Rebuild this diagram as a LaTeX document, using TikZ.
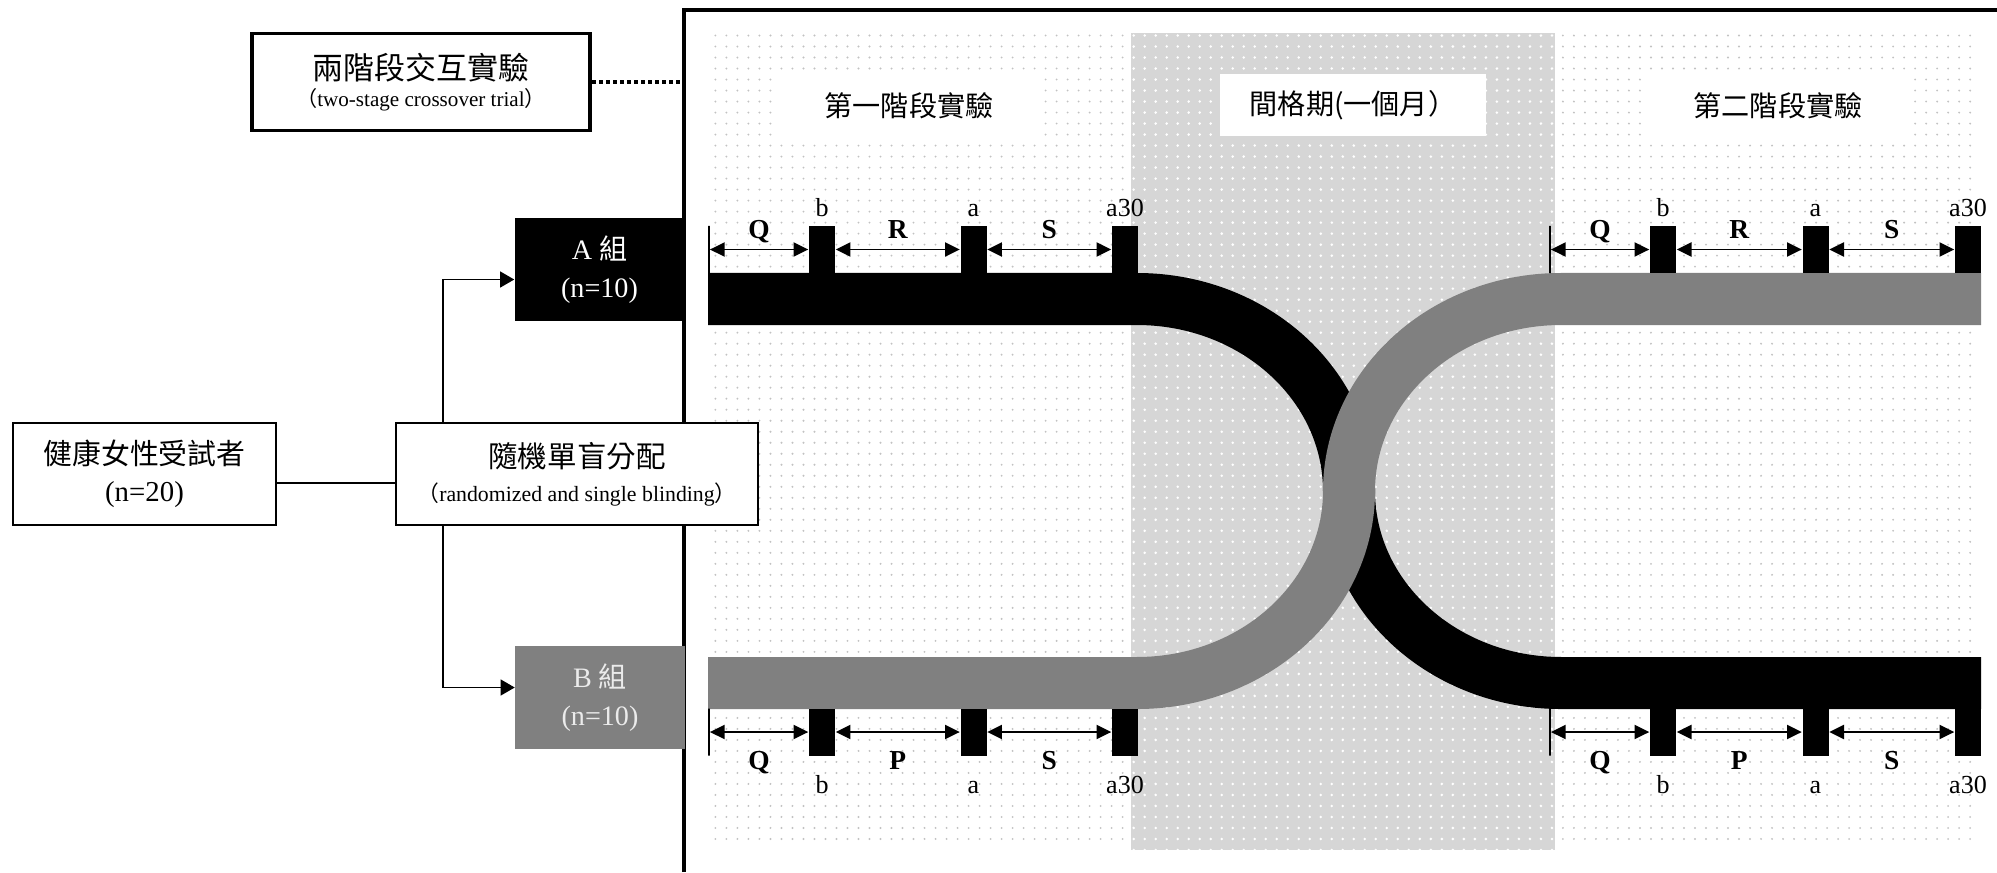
\documentclass[tikz,border=0pt]{standalone}
\usepackage{fontspec}
\setmainfont{Liberation Serif}
\newfontfamily\cjk{Noto Sans CJK TC}
\usepackage{tikz}
\usetikzlibrary{arrows.meta,positioning,calc,patterns.meta}
\definecolor{trackgray}{HTML}{808080}
\definecolor{washfill}{HTML}{D6D6D6}
\definecolor{dotgray}{HTML}{C2C2C2}

\begin{document}
\begin{tikzpicture}[x=0.01cm, y=-0.01cm,
  box/.style={draw, line width=0.55pt, fill=white, align=center, inner sep=0pt},
  grp/.style={align=center, inner sep=0pt, minimum width=1.69cm, minimum height=1.03cm, font=\fontsize{8}{11}\selectfont},
  phase/.style={fill=white, inner sep=0pt, minimum width=2.66cm, minimum height=0.62cm, font=\cjk\fontsize{8}{9}\selectfont},
  visit/.style={fill=black, inner sep=0pt, minimum width=0.26cm, minimum height=0.47cm},
  stopline/.style={draw, line width=0.5pt, inner sep=0pt, minimum width=0pt, minimum height=0.47cm},
  track/.style={line width=0.52cm},
  dimarrow/.style={{Triangle[length=4.2pt,width=4pt]}-{Triangle[length=4.2pt,width=4pt]}, line width=0.5pt},
  arr/.style={-{Triangle[length=4pt,width=4.5pt]}, line width=0.5pt},
  seg/.style={font=\bfseries\fontsize{7.8}{8}\selectfont, inner sep=0pt, text height=5.3pt, text depth=0pt},
  timetag/.style={font=\fontsize{7.4}{8}\selectfont, inner sep=0pt}
]
  \useasboundingbox (0,0) rectangle (1997,872);
  \fill[white] (0,0) rectangle (1997,872);

  % the three periods
  \fill[pattern={Dots[distance=0.11cm,radius=0.3pt]}, pattern color=dotgray] (707,33) rectangle (1131,847);
  \fill[washfill] (1131,33) rectangle (1555,850);
  \fill[pattern={Dots[distance=0.11cm,radius=0.4pt]}, pattern color=white] (1131,33) rectangle (1555,850);
  \fill[pattern={Dots[distance=0.11cm,radius=0.3pt]}, pattern color=dotgray] (1555,33) rectangle (1978,847);
  \draw[line width=0.95pt] (684,872) -- (684,10) -- (1997,10);

  \node[phase] (ph1) at (909,106) {第一階段實驗};
  \node[phase] (wash) at (1353,105) {間格期(一個月）};
  \node[phase] (ph2) at (1778,106) {第二階段實驗};

  % left side
  \node[box, line width=1.1pt, minimum width=3.38cm, minimum height=0.97cm, font=\fontsize{8.8}{7.8}\selectfont] (title) at (421,82)
    {{\cjk 兩階段交互實驗}\\{\fontsize{6}{6.5}\selectfont{\cjk （}two-stage crossover trial{\cjk ）}}};
  \node[box, minimum width=2.63cm, minimum height=1.02cm, font=\fontsize{8.2}{10.6}\selectfont] (subj) at (144.5,474)
    {{\cjk 健康女性受試者}\\(n=20)};
  \node[box, minimum width=3.62cm, minimum height=1.02cm, font=\fontsize{8.4}{9.6}\selectfont] (rand) at (577,474)
    {{\cjk 隨機單盲分配}\\{\fontsize{6.2}{7}\selectfont{\cjk （}randomized and single blinding{\cjk ）}}};
  \node[grp, fill=black, text=white] (grpA) at (599.5,269.5) {A\ {\cjk 組}\\(n=10)};
  \node[grp, fill=trackgray, text=black!8] (grpB) at (600,697.5) {B\ {\cjk 組}\\(n=10)};
  \coordinate (frameA) at (684,82);

  \draw[line width=1pt, dash pattern=on 1pt off 1pt] (title.east) -- (frameA);
  \draw[line width=0.5pt] ([yshift=-0.09cm]subj.east) -- ([yshift=-0.09cm]rand.west);
  \draw[arr] ([xshift=0.48cm]rand.north west) |- ([yshift=-0.1cm]grpA.west);
  \draw[arr] ([xshift=0.48cm]rand.south west) |- ([yshift=0.1cm]grpB.west);

  % crossing tracks
  \draw[track, black] (708,299) -- (1137,299) .. controls (1254,299) and (1349,385) .. (1349,491)
    .. controls (1349,597) and (1444,683) .. (1561,683) -- (1981,683);
  \draw[track, trackgray] (708,683) -- (1137,683) .. controls (1254,683) and (1349,597) .. (1349,491)
    .. controls (1349,385) and (1444,299) .. (1561,299) -- (1981,299);

  % group A, first period
  \node[stopline] (A1start) at (709,249.5) {};
  \node[visit] (A1b) at (822,249.5) {};
  \node[visit, right=1.24cm of A1b] (A1a) {};
  \node[visit, right=1.24cm of A1a] (A1a30) {};
  \draw[dimarrow] (A1start) -- node[seg, above=0.1cm] (A1Q) {Q} (A1b);
  \draw[dimarrow] (A1b) -- node[seg, above=0.1cm] (A1R) {R} (A1a);
  \draw[dimarrow] (A1a) -- node[seg, above=0.1cm] (A1S) {S} (A1a30);
  \node[timetag, anchor=base] (A1bt) at ([yshift=0.09cm]A1b.north) {b};
  \node[timetag, anchor=base] (A1at) at ([yshift=0.09cm]A1a.north) {a};
  \node[timetag, anchor=base] (A1a30t) at ([yshift=0.09cm]A1a30.north) {a30};

  % group B (second period, top)
  \node[stopline] (A2start) at (1550,249.5) {};
  \node[visit] (A2b) at (1663,249.5) {};
  \node[visit, right=1.25cm of A2b] (A2a) {};
  \node[visit, right=1.25cm of A2a] (A2a30) {};
  \draw[dimarrow] (A2start) -- node[seg, above=0.1cm] (A2Q) {Q} (A2b);
  \draw[dimarrow] (A2b) -- node[seg, above=0.1cm] (A2R) {R} (A2a);
  \draw[dimarrow] (A2a) -- node[seg, above=0.1cm] (A2S) {S} (A2a30);
  \node[timetag, anchor=base] (A2bt) at ([yshift=0.09cm]A2b.north) {b};
  \node[timetag, anchor=base] (A2at) at ([yshift=0.09cm]A2a.north) {a};
  \node[timetag, anchor=base] (A2a30t) at ([yshift=0.09cm]A2a30.north) {a30};

  % group B, first period
  \node[stopline] (B1start) at (709,732) {};
  \node[visit] (B1b) at (822,732) {};
  \node[visit, right=1.24cm of B1b] (B1a) {};
  \node[visit, right=1.24cm of B1a] (B1a30) {};
  \draw[dimarrow] (B1start) -- node[seg, below=0.18cm] (B1Q) {Q} (B1b);
  \draw[dimarrow] (B1b) -- node[seg, below=0.18cm] (B1P) {P} (B1a);
  \draw[dimarrow] (B1a) -- node[seg, below=0.18cm] (B1S) {S} (B1a30);
  \node[timetag, anchor=base] (B1bt) at ([yshift=-0.37cm]B1b.south) {b};
  \node[timetag, anchor=base] (B1at) at ([yshift=-0.37cm]B1a.south) {a};
  \node[timetag, anchor=base] (B1a30t) at ([yshift=-0.37cm]B1a30.south) {a30};

  % group A (second period, bottom)
  \node[stopline] (B2start) at (1550,732) {};
  \node[visit] (B2b) at (1663,732) {};
  \node[visit, right=1.25cm of B2b] (B2a) {};
  \node[visit, right=1.25cm of B2a] (B2a30) {};
  \draw[dimarrow] (B2start) -- node[seg, below=0.18cm] (B2Q) {Q} (B2b);
  \draw[dimarrow] (B2b) -- node[seg, below=0.18cm] (B2P) {P} (B2a);
  \draw[dimarrow] (B2a) -- node[seg, below=0.18cm] (B2S) {S} (B2a30);
  \node[timetag, anchor=base] (B2bt) at ([yshift=-0.37cm]B2b.south) {b};
  \node[timetag, anchor=base] (B2at) at ([yshift=-0.37cm]B2a.south) {a};
  \node[timetag, anchor=base] (B2a30t) at ([yshift=-0.37cm]B2a30.south) {a30};
\end{tikzpicture}
\end{document}
